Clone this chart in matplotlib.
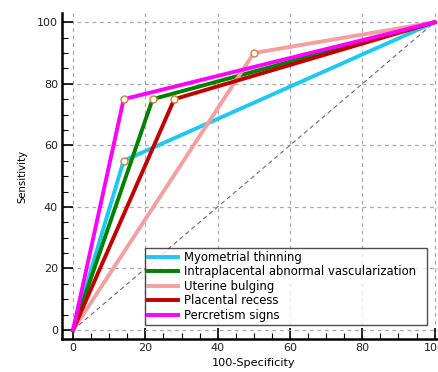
import matplotlib
matplotlib.use("Agg")
import matplotlib.pyplot as plt
from matplotlib.ticker import MultipleLocator

plt.rcParams["font.family"] = ["DejaVu Sans"]

# ROC points (100-Specificity, Sensitivity)
names = ["Myometrial thinning", "Intraplacental abnormal vascularization",
         "Uterine bulging", "Placental recess", "Percretism signs"]
fpr = [[0, 14, 100], [0, 22, 100], [0, 50, 100], [0, 28, 100], [0, 14, 100]]
tpr = [[0, 55, 100], [0, 75, 100], [0, 90, 100], [0, 75, 100], [0, 75, 100]]
colors = ["#1ec8f0", "#008000", "#f4a0a0", "#c00000", "#ff00ff"]

fig = plt.figure(figsize=(4.38, 3.72), dpi=100)
ax = fig.add_axes([0.142, 0.088, 0.875, 0.877])

# chance line
ax.plot([0, 100], [0, 100], ls=(0, (4, 3)), color="#806070", lw=0.8, zorder=2)

lines = []
for x, y, c, n in zip(fpr, tpr, colors, names):
    ln, = ax.plot(x, y, color=c, lw=2.8, label=n, zorder=3)
    lines.append(ln)
    # operating point marker
    ax.plot(x[1], y[1], "o", ms=5, mfc="white", mec="#d08040", mew=1.0, zorder=5)

ax.set_xlim(-3, 103)
ax.set_ylim(-3, 103)
ax.xaxis.set_major_locator(MultipleLocator(20))
ax.yaxis.set_major_locator(MultipleLocator(20))
ax.xaxis.set_minor_locator(MultipleLocator(5))
ax.yaxis.set_minor_locator(MultipleLocator(5))
ax.grid(True, which="major", ls=(0, (3, 3)), color="#a8a8a8", lw=0.9, zorder=1)

for s in ["top", "right"]:
    ax.spines[s].set_visible(False)
for s in ["left", "bottom"]:
    ax.spines[s].set_linewidth(1.8)
    ax.spines[s].set_color("black")

ax.tick_params(which="major", direction="in", length=8, width=1.2, labelsize=8,
               labelcolor="#222222", pad=3)
ax.tick_params(which="minor", direction="in", length=4, width=0.8)

ax.set_xlabel("100-Specificity", fontsize=8.1, labelpad=3)
ax.set_ylabel("Sensitivity", fontsize=7.3, labelpad=7)

leg = ax.legend(handles=lines, loc="lower left",
                bbox_to_anchor=(0.216, 0.044, 0.736, 0.0), mode="expand",
                borderaxespad=0, prop={"size": 8.4}, frameon=True, fancybox=False,
                handlelength=2.6, handletextpad=0.5, labelspacing=0.13,
                borderpad=0.25)
leg.get_frame().set_edgecolor("#222222")
leg.get_frame().set_linewidth(1.0)
leg.set_zorder(6)

fig.savefig("out.png", dpi=100)
